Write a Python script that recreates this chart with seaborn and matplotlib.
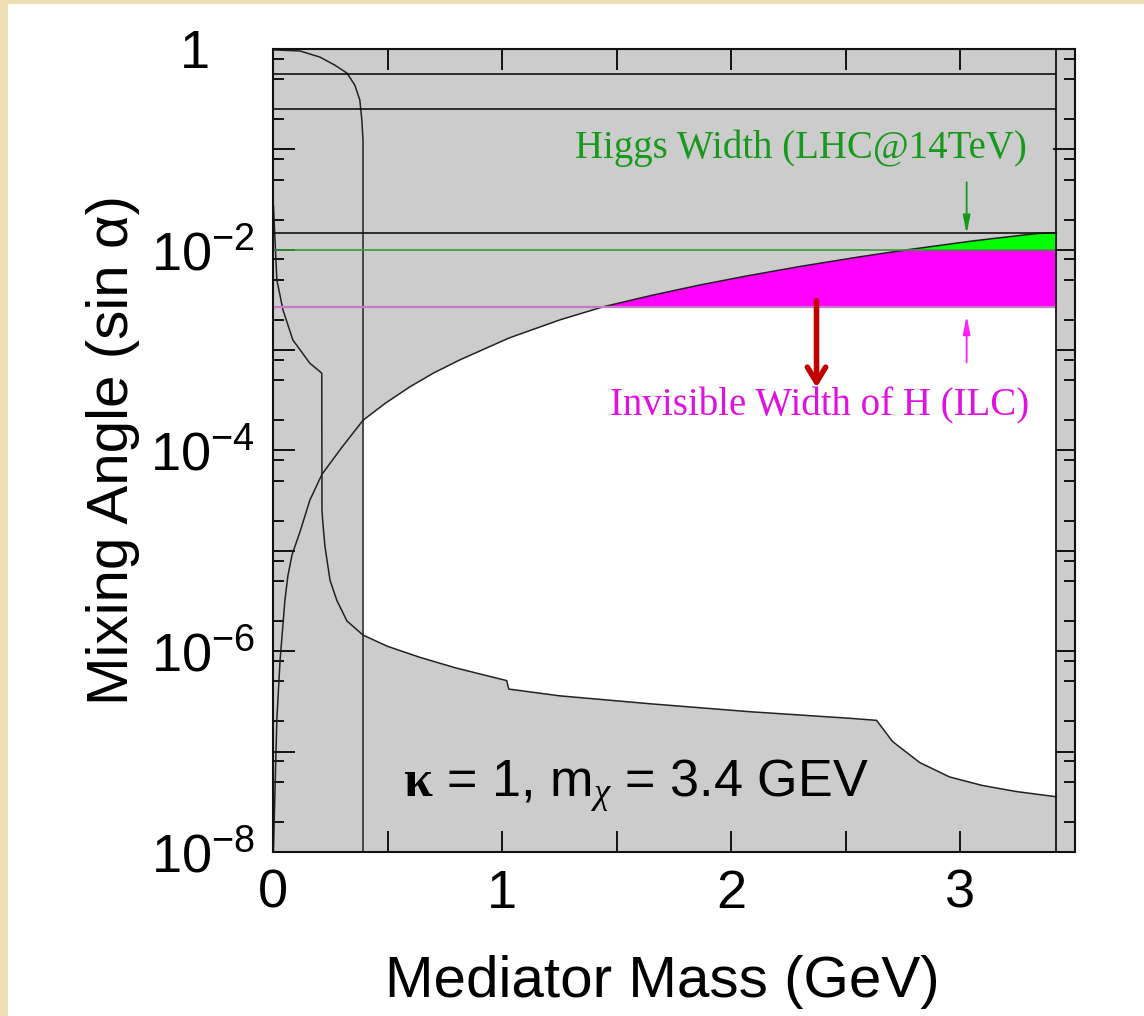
import numpy as np
import pandas as pd
import matplotlib
matplotlib.use("Agg")
import matplotlib.pyplot as plt
import seaborn as sns
from matplotlib.ticker import FixedLocator, LogLocator, NullFormatter, FixedFormatter
from matplotlib.patches import Rectangle

# ---------------- data ----------------
# rising curve (upper boundary of the allowed region)
curve_a_x = [0.002, 0.009, 0.017, 0.031, 0.052, 0.065, 0.083, 0.118, 0.161, 0.214, 0.300, 0.393,
             0.490, 0.597, 0.700, 0.816, 1.030, 1.252, 1.441, 1.650, 1.862, 2.080, 2.298, 2.560,
             2.769, 3.062, 3.332, 3.419]
curve_a_y = [1.0e-8, 4.2e-8, 2.1e-7, 8.1e-7, 3.2e-6, 5.6e-6, 9.1e-6, 1.55e-5, 3.2e-5, 5.8e-5, 1.07e-4,
             2.0e-4, 2.95e-4, 4.3e-4, 5.9e-4, 8.0e-4, 1.32e-3, 2.0e-3, 2.7e-3, 3.5e-3, 4.45e-3,
             5.55e-3, 6.8e-3, 8.5e-3, 1.0e-2, 1.23e-2, 1.45e-2, 1.48e-2]

# lower curve (lower boundary of the allowed region)
curve_b_x = [0.002, 0.009, 0.017, 0.044, 0.087, 0.161, 0.213, 0.214, 0.217, 0.227, 0.249,
             0.279, 0.323, 0.393, 0.500, 0.641, 0.800, 1.020, 1.029, 1.250, 1.644, 2.080,
             2.516, 2.634, 2.704, 2.822, 2.952, 3.096, 3.245, 3.419]
curve_b_y = [2.8e-2, 1.26e-2, 5.0e-3, 2.5e-3, 1.26e-3, 7.4e-4, 5.9e-4, 2.5e-5, 2.0e-5, 1.1e-5,
             5.1e-6, 3.2e-6, 2.0e-6, 1.45e-6, 1.12e-6, 8.7e-7, 6.8e-7, 5.1e-7, 4.2e-7, 3.6e-7,
             3.0e-7, 2.5e-7, 2.15e-7, 2.05e-7, 1.26e-7, 7.8e-8, 5.6e-8, 4.6e-8, 4.0e-8, 3.55e-8]

# top-left curve
curve_c_x = [0.000, 0.118, 0.205, 0.270, 0.323, 0.357, 0.379, 0.388, 0.393, 0.393]
curve_c_y = [0.98, 0.955, 0.83, 0.69, 0.575, 0.437, 0.31, 0.195, 0.123, 1.0e-8]

m_chi = 3.419
h_lines = [0.562, 0.251, 0.0148]
higgs_width = 1.0e-2
invisible_width = 2.69e-3
cross_magenta_x = 1.441
cross_green_x = 2.769

x_ticks = [0, 0.5, 1.0, 1.5, 2.0, 2.5, 3.0]
x_labels = ["0", "", "1", "", "2", "", "3"]
y_ticks = [1e-8, 1e-7, 1e-6, 1e-5, 1e-4, 1e-3, 1e-2, 1e-1, 1.0]
y_labels = [r"$\mathregular{10^{-8}}$", "", r"$\mathregular{10^{-6}}$", "",
            r"$\mathregular{10^{-4}}$", "", r"$\mathregular{10^{-2}}$", "", "1   "]

# ---------------- style ----------------
sns.set_theme(style="ticks")
plt.rcParams["font.family"] = ["Liberation Sans", "DejaVu Sans"]
plt.rcParams["mathtext.fontset"] = "custom"
plt.rcParams["mathtext.rm"] = "Liberation Sans"
plt.rcParams["mathtext.it"] = "Liberation Serif:italic"
plt.rcParams["mathtext.bf"] = "Liberation Serif:bold"

GRAY = "#cccccc"
fig = plt.figure(figsize=(11.44, 10.16), dpi=100, facecolor="#F1DFB4")
fig.patches.append(Rectangle((8 / 1144, 0), 1, 1 - 4 / 1016, transform=fig.transFigure,
                             facecolor="white", edgecolor="none", zorder=-10))
ax = fig.add_axes([0.2386, 0.1614, 0.7011, 0.7904])
ax.set_facecolor(GRAY)
ax.set_yscale("log")
ax.set_xlim(0, 3.5)
ax.set_ylim(1e-8, 1)

# allowed (white) region between the curves
a_sel = [(x, y) for x, y in zip(curve_a_x, curve_a_y) if x >= 0.393]
b_sel = [(x, y) for x, y in zip(curve_b_x, curve_b_y) if x >= 0.393]
poly = a_sel + b_sel[::-1]
ax.fill([p[0] for p in poly], [p[1] for p in poly], color="white", lw=0, zorder=1)

# magenta region
mag = [(x, y) for x, y in zip(curve_a_x, curve_a_y) if cross_magenta_x <= x <= cross_green_x]
mag = [(cross_magenta_x, invisible_width)] + mag + [(m_chi, higgs_width), (m_chi, invisible_width)]
ax.fill([p[0] for p in mag], [p[1] for p in mag], color="#ff00ff", lw=0, zorder=1.5)
# green region
grn = [(x, y) for x, y in zip(curve_a_x, curve_a_y) if x >= cross_green_x]
grn = grn + [(m_chi, higgs_width)]
ax.fill([p[0] for p in grn], [p[1] for p in grn], color="#00ff00", lw=0, zorder=1.5)

# curves
for cx, cy in [(curve_a_x, curve_a_y), (curve_b_x, curve_b_y), (curve_c_x, curve_c_y)]:
    sns.lineplot(x=cx, y=cy, sort=False, estimator=None, color="#222222", lw=1.1, ax=ax, zorder=3)

for h in h_lines:
    ax.plot([0, m_chi], [h, h], color="#111111", lw=1.2, zorder=3)
ax.plot([0, m_chi], [higgs_width, higgs_width], color="#3a9a3a", lw=1.2, zorder=3)
ax.plot([0, m_chi], [invisible_width, invisible_width], color="#c878c8", lw=1.6, zorder=3)
ax.axvline(m_chi, color="#111111", lw=1.3, zorder=3)

# annotations
ax.text(1.317, 10 ** -1.086, "Higgs Width (LHC@14TeV)", color="#18981c",
        family="Liberation Serif", fontsize=28, ha="left", va="baseline", zorder=4)
ax.text(1.470, 10 ** -3.646, "Invisible Width of H (ILC)", color="#e010e0",
        family="Liberation Serif", fontsize=28, ha="left", va="baseline", zorder=4)
ax.annotate("", xy=(3.027, 10 ** -1.87), xytext=(3.027, 10 ** -1.30),
            arrowprops=dict(arrowstyle="-|>,head_length=0.9,head_width=0.18",
                            color="#18981c", lw=1.3), zorder=4)
ax.annotate("", xy=(3.027, 10 ** -2.63), xytext=(3.027, 10 ** -3.15),
            arrowprops=dict(arrowstyle="-|>,head_length=0.9,head_width=0.18",
                            color="#ff20ff", lw=1.3), zorder=4)
ax.annotate("", xy=(2.372, 10 ** -3.40), xytext=(2.372, 10 ** -2.48),
            arrowprops=dict(arrowstyle="->,head_length=0.9,head_width=0.55",
                            color="#c00000", lw=4), zorder=4)
ax.text(0.567, 10 ** -7.452, r"$\mathbf{\kappa}$ = 1, m$_{\chi}$ = 3.4 GEV",
        fontsize=37.5, color="black", ha="left", va="baseline", zorder=4)

# axes/ticks
ax.xaxis.set_major_locator(FixedLocator(x_ticks))
ax.xaxis.set_major_formatter(FixedFormatter(x_labels))
ax.yaxis.set_major_locator(FixedLocator(y_ticks))
ax.yaxis.set_major_formatter(FixedFormatter(y_labels))
ax.yaxis.set_minor_locator(LogLocator(base=10, subs=(2, 5, 8), numticks=20))
ax.yaxis.set_minor_formatter(NullFormatter())
ax.tick_params(axis="both", which="both", direction="in", top=True, right=True,
               color="#111111", width=1.4, labelsize=39, labelcolor="black")
ax.tick_params(axis="y", which="major", length=16, pad=13)
ax.tick_params(axis="y", which="minor", length=8)
ax.tick_params(axis="x", which="major", length=15, pad=12)
for s in ax.spines.values():
    s.set_color("#111111")
    s.set_linewidth(1.5)
    s.set_zorder(5)

ax.set_xlabel("Mediator Mass (GeV)", fontsize=42, color="black")
ax.set_ylabel("Mixing Angle (sin α)", fontsize=42, color="black")
ax.xaxis.set_label_coords(0.485, -0.128)
ax.yaxis.set_label_coords(-0.166, 0.5)

fig.savefig("out.png", dpi=100, facecolor=fig.get_facecolor())
